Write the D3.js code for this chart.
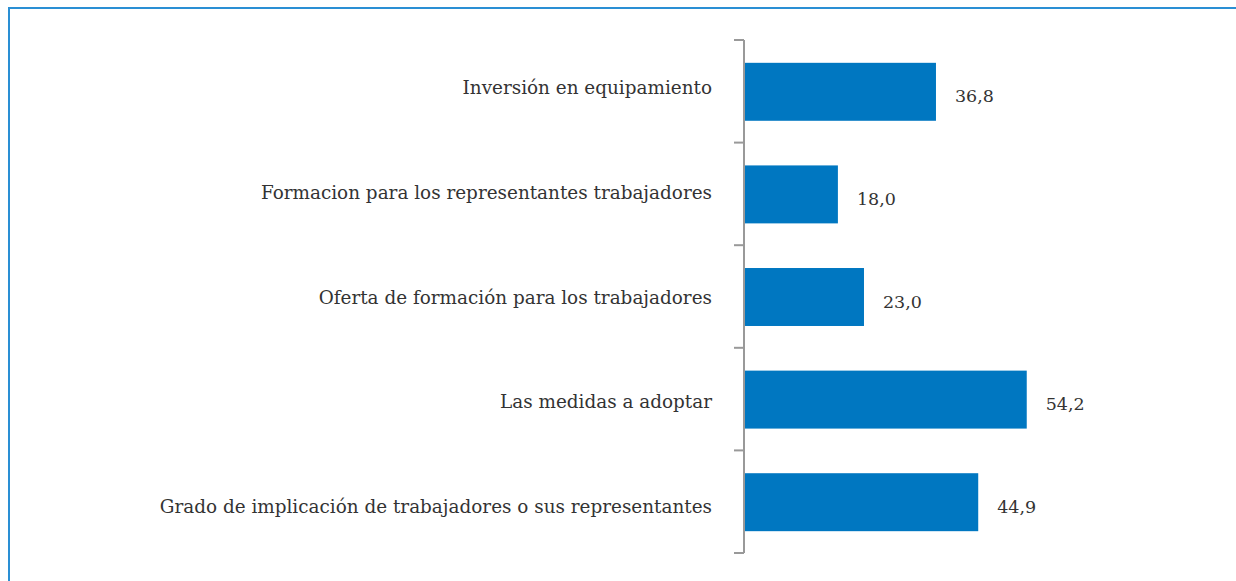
<!DOCTYPE html>
<html lang="es">
<head>
  <meta charset="UTF-8">
  <title>Chart</title>
  <style>
    body { margin: 0; background: #fff; }
    text { font-family: "DejaVu Serif", serif; fill: #333; }
  </style>
</head>
<body>
<script src="https://d3js.org/d3.v7.min.js"></script>
<script>
  const categories = [
    "Inversión en equipamiento",
    "Formacion para los representantes trabajadores",
    "Oferta de formación para los trabajadores",
    "Las medidas a adoptar",
    "Grado de implicación de trabajadores o sus representantes"
  ];
  const values = [36.8, 18.0, 23.0, 54.2, 44.9];

  const width = 1236, height = 581;
  const svg = d3.select("body").append("svg")
    .attr("width", width)
    .attr("height", height);

  // frame (right/bottom edges fall outside the picture)
  svg.append("rect")
    .attr("x", 9).attr("y", 8)
    .attr("width", 1240).attr("height", 600)
    .attr("fill", "none")
    .attr("stroke", "#2a8fd4")
    .attr("stroke-width", 2);

  const x0 = 744;
  const x = d3.scaleLinear().domain([0, 60]).range([x0, x0 + 313]);
  const y = d3.scaleBand().domain(categories).range([40, 553]).paddingInner(0.435).paddingOuter(0.2175);
  // category labels drift slightly lower than the bars in the original
  const yLab = d3.scalePoint().domain(categories).range([94, 513]);

  // bars
  svg.selectAll("rect.bar")
    .data(values)
    .join("rect")
    .attr("class", "bar")
    .attr("x", x(0))
    .attr("y", (d, i) => y(categories[i]) + 0.5)
    .attr("width", d => x(d) - x(0))
    .attr("height", y.bandwidth())
    .attr("fill", "#0077c1");

  // value labels
  svg.selectAll("text.val")
    .data(values)
    .join("text")
    .attr("class", "val")
    .attr("x", d => x(d) + 19)
    .attr("y", (d, i) => y(categories[i]) + y.bandwidth() / 2 + 11)
    .attr("font-size", 17.5)
    .text(d => d3.format(".1f")(d).replace(".", ","));

  // category axis
  const step = (553 - 40) / categories.length;
  const tickPos = d3.range(categories.length + 1).map(i => 40 + i * step);
  const axis = svg.append("g");
  axis.append("line")
    .attr("x1", x0).attr("x2", x0)
    .attr("y1", 40).attr("y2", 553)
    .attr("stroke", "#999").attr("stroke-width", 2);
  axis.selectAll("line.tick")
    .data(tickPos)
    .join("line")
    .attr("class", "tick")
    .attr("x1", x0 - 10).attr("x2", x0)
    .attr("y1", d => d).attr("y2", d => d)
    .attr("stroke", "#999").attr("stroke-width", 2);

  svg.selectAll("text.cat")
    .data(categories)
    .join("text")
    .attr("class", "cat")
    .attr("x", 712)
    .attr("y", d => yLab(d))
    .attr("text-anchor", "end")
    .attr("font-size", 18.4)
    .text(d => d);
</script>
</body>
</html>
